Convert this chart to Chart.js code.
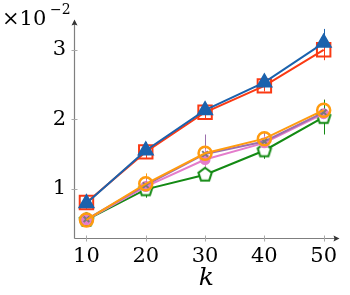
<!DOCTYPE html>
<html>
<head>
<meta charset="utf-8">
<script src="https://cdn.jsdelivr.net/npm/chart.js@4"></script>
<style>
  html, body { margin: 0; padding: 0; background: #fff; }
  #wrap { width: 350px; height: 295px; }
</style>
</head>
<body>
<div id="wrap"><canvas id="c" width="350" height="295"></canvas></div>
<script>
// data (values in units of 10^-2)
const kValues = [10, 20, 30, 40, 50];
const xTicks = [10, 20, 30, 40, 50];
const yTicks = [1, 2, 3];

const blueVals = [0.79, 1.55, 2.13, 2.53, 3.10];
const blueErr = [0.08, 0.12, 0.12, 0.06, 0.20];
const redVals = [0.80, 1.53, 2.10, 2.48, 3.00];
const redErr = [0.06, 0.10, 0.10, 0.08, 0.15];
const orangeVals = [0.55, 1.07, 1.51, 1.72, 2.13];
const orangeErr = [0.05, 0.15, 0.20, 0.10, 0.15];
const purpleVals = [0.56, 1.05, 1.50, 1.68, 2.10];
const purpleErr = [0.06, 0.10, 0.28, 0.12, 0.18];
const pinkVals = [0.55, 1.03, 1.42, 1.66, 2.08];
const pinkErr = [0.08, 0.10, 0.15, 0.10, 0.15];
const greenVals = [0.55, 0.99, 1.20, 1.55, 2.03];
const greenErr = [0.05, 0.12, 0.08, 0.12, 0.25];

const serif = "'DejaVu Serif', 'Liberation Serif', serif";

// pentagon marker
function pentagon(color, r) {
    const c = document.createElement("canvas");
    const s = Math.ceil(r * 2 + 4);
    c.width = s; c.height = s;
    const g = c.getContext("2d");
    g.strokeStyle = color;
    g.lineWidth = 2;
    g.beginPath();
    for (let i = 0; i < 5; i++) {
        const a = -Math.PI / 2 + i * 2 * Math.PI / 5;
        const x = s / 2 + r * Math.cos(a), y = s / 2 + r * Math.sin(a);
        if (i === 0) g.moveTo(x, y); else g.lineTo(x, y);
    }
    g.closePath();
    g.fillStyle = "#fff";
    g.fill();
    g.stroke();
    return c;
}

function series(vals, err, color, style, extra) {
    return Object.assign({
        data: kValues.map((k, i) => ({ x: k, y: vals[i] })),
        err: err,
        borderColor: color,
        backgroundColor: color,
        borderWidth: 2,
        pointStyle: style,
        pointRadius: 6,
        pointBorderWidth: 2,
        pointBorderColor: color,
        pointBackgroundColor: color,
        tension: 0
    }, extra || {});
}

const datasets = [
    series(blueVals, blueErr, "#1b62ad", "triangle", { pointRadius: 8 }),
    series(redVals, redErr, "#fa3a14", "rect", { pointRadius: 9.5, pointBackgroundColor: "rgba(0,0,0,0)" }),
    series(orangeVals, orangeErr, "#ff9b0f", "circle", { pointRadius: 6.5, pointBackgroundColor: "rgba(0,0,0,0)", pointBorderWidth: 2.5 }),
    series(purpleVals, purpleErr, "#9c6fae", "crossRot", { pointRadius: 4, pointBorderColor: "#7a7a7a" }),
    series(pinkVals, pinkErr, "#e47ccb", "circle", { pointRadius: 4.5 }),
    series(greenVals, greenErr, "#138a13", pentagon("#138a13", 7))
];

// error bars + axes with arrows + exponent label
const decor = {
    id: "decor",
    beforeDatasetsDraw(chart) {
        const ctx = chart.ctx, xs = chart.scales.x, ys = chart.scales.y;
        ctx.save();
        ctx.lineWidth = 1;
        chart.data.datasets.forEach(ds => {
            ctx.strokeStyle = ds.borderColor;
            ds.data.forEach((p, i) => {
                const px = Math.round(xs.getPixelForValue(p.x)) + 0.5;
                ctx.beginPath();
                ctx.moveTo(px, ys.getPixelForValue(p.y - ds.err[i]));
                ctx.lineTo(px, ys.getPixelForValue(p.y + ds.err[i]));
                ctx.stroke();
            });
        });
        ctx.restore();
    },
    afterDraw(chart) {
        const ctx = chart.ctx, xs = chart.scales.x, ys = chart.scales.y;
        const a = chart.chartArea;
        ctx.save();
        ctx.strokeStyle = "#7f7f7f";
        ctx.fillStyle = "#333";
        ctx.lineWidth = 1.2;
        const x0 = Math.round(a.left) + 0.5, y0 = Math.round(a.bottom) + 0.5;
        ctx.beginPath();
        ctx.moveTo(x0, y0); ctx.lineTo(a.right - 2, y0);
        ctx.moveTo(x0, y0); ctx.lineTo(x0, a.top + 2);
        ctx.stroke();
        // arrow heads
        ctx.beginPath();
        ctx.moveTo(a.right + 1, y0); ctx.lineTo(a.right - 5, y0 - 3); ctx.lineTo(a.right - 4, y0); ctx.lineTo(a.right - 5, y0 + 3);
        ctx.closePath(); ctx.fill();
        ctx.beginPath();
        ctx.moveTo(x0, a.top - 1); ctx.lineTo(x0 - 3, a.top + 5); ctx.lineTo(x0, a.top + 4); ctx.lineTo(x0 + 3, a.top + 5);
        ctx.closePath(); ctx.fill();
        // tick marks
        ctx.strokeStyle = "#aaa";
        ctx.lineWidth = 1;
        xTicks.forEach(t => {
            const px = Math.round(xs.getPixelForValue(t)) + 0.5;
            ctx.beginPath(); ctx.moveTo(px, y0 - 3); ctx.lineTo(px, y0 + 3); ctx.stroke();
        });
        yTicks.forEach(t => {
            const py = Math.round(ys.getPixelForValue(t)) + 0.5;
            ctx.beginPath(); ctx.moveTo(x0 - 3, py); ctx.lineTo(x0 + 3, py); ctx.stroke();
        });
        // exponent
        ctx.fillStyle = "#000";
        ctx.textBaseline = "alphabetic";
        ctx.font = "21px " + serif;
        ctx.fillText("\u00d710", 2, 25);
        ctx.font = "14px " + serif;
        ctx.fillText("\u22122", 50, 14);
        ctx.restore();
    }
};

new Chart(document.getElementById("c"), {
    type: "line",
    data: { datasets: datasets },
    options: {
        responsive: false,
        animation: false,
        layout: { padding: { left: 0, right: 5, top: 14, bottom: 0 } },
        plugins: { legend: { display: false }, tooltip: { enabled: false } },
        scales: {
            x: {
                type: "linear",
                min: 7.9,
                max: 52.5,
                afterBuildTicks: s => { s.ticks = xTicks.map(v => ({ value: v })); },
                afterFit: s => { s.height = 57; },
                grid: { display: false, drawTicks: false },
                border: { display: false },
                ticks: { color: "#000", padding: 6, font: { family: serif, size: 21 } },
                title: { display: true, text: "k", color: "#000", padding: { top: 0, bottom: 2 },
                         font: { family: serif, size: 25, style: "italic" } }
            },
            y: {
                type: "linear",
                min: 0.29,
                max: 3.42,
                afterBuildTicks: s => { s.ticks = yTicks.map(v => ({ value: v })); },
                afterFit: s => { s.width = 74; },
                grid: { display: false, drawTicks: false },
                border: { display: false },
                ticks: { color: "#000", padding: 8, font: { family: serif, size: 21 } }
            }
        }
    },
    plugins: [decor]
});
</script>
</body>
</html>
